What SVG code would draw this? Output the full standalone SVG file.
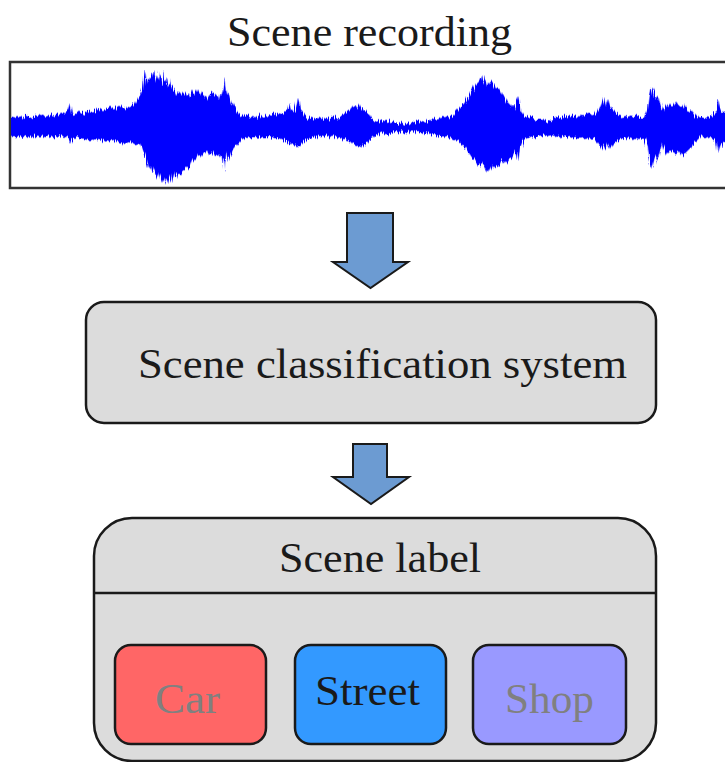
<svg xmlns="http://www.w3.org/2000/svg" width="725" height="762" viewBox="0 0 725 762">
<style>
  .txt { font-size: 42px; fill: #1a1a1a; }
  .gray { fill: #808080; }
  .box { fill: #dcdcdc; stroke: #1a1a1a; stroke-width: 2.5; }
  .arrow { fill: #6c9bd2; stroke: #1a1a1a; stroke-width: 2; stroke-linejoin: miter; }
  .wave { fill: #0000ff; stroke: #0000ff; stroke-width: 1.5; stroke-opacity: 0.4; stroke-linejoin: round; }
  .cls { stroke: #1a1a1a; stroke-width: 2.5; }
</style>
<defs>
  <clipPath id="waveclip"><rect x="11" y="63" width="714" height="125"/></clipPath>
  <filter id="rough" x="-2%" y="-20%" width="104%" height="140%">
    <feTurbulence type="fractalNoise" baseFrequency="0.9 0.02" numOctaves="2" seed="3" result="n"/>
    <feDisplacementMap in="SourceGraphic" in2="n" scale="9" xChannelSelector="R" yChannelSelector="G"/>
  </filter>
</defs>
<rect width="725" height="762" fill="#ffffff"/>

<g font-family="'Liberation Serif', 'DejaVu Serif', 'Noto Serif', 'Times New Roman', Times, serif">
<g id="recording">
  <text class="txt" x="227" y="46" textLength="285" lengthAdjust="spacingAndGlyphs">Scene recording</text>
  <rect x="10" y="62" width="725" height="126" fill="#ffffff" stroke="#333333" stroke-width="2.5"/>
  <g clip-path="url(#waveclip)">
    <g filter="url(#rough)">
    <polygon class="wave" points="11,118 15,117 20,119 25,116 30,118 35,117 40,115 45,117 50,116 55,114 60,116 65,113 68,110 70,104 72,113 75,115 80,112 85,114 90,111 95,112 100,109 105,111 110,107 115,110 120,106 125,109 130,107 135,104 140,96 143,88 145,72 147,85 149,78 151,80 153,73 155,82 157,76 159,80 161,70 163,84 165,83 167,79 169,88 171,86 173,91 175,90 177,95 180,92 183,96 186,93 189,98 192,91 195,95 198,90 201,96 204,94 207,99 210,95 213,93 216,96 219,100 222,90 224,78 226,94 228,92 230,99 232,104 235,110 238,114 241,115 245,117 250,116 255,118 260,115 265,117 270,116 275,114 280,115 285,112 288,110 290,104 292,111 295,109 298,99 300,110 303,113 306,117 310,119 315,120 320,118 325,121 330,119 335,117 340,118 345,114 350,110 353,106 356,108 359,104 362,109 365,112 368,114 372,120 377,121 382,122 387,121 392,123 397,124 402,123 407,124 412,123 417,122 422,121 427,122 432,119 437,120 442,117 447,118 452,116 456,112 460,108 464,104 467,100 470,95 473,90 476,85 479,82 482,76 484,84 486,80 488,86 490,82 493,85 496,90 499,89 502,94 505,98 508,103 511,106 513,110 516,104 518,97 520,112 523,116 527,117 532,118 537,119 542,119 547,121 552,120 556,117 560,118 565,117 570,116 575,117 580,115 585,116 590,114 595,115 598,111 601,106 604,98 606,107 608,100 610,106 613,110 616,113 620,116 625,117 630,118 635,116 640,117 645,117 648,110 650,96 652,88 654,92 656,100 658,97 660,104 662,110 664,111 667,108 670,104 673,106 676,102 679,106 682,108 685,104 688,112 691,110 694,114 697,117 700,118 704,117 708,118 712,116 716,112 718,100 720,108 722,112 730,114 730,140 722,142 720,146 718,152 716,141 712,138 708,136 704,137 700,136 697,139 694,142 691,147 688,150 685,153 682,155 679,151 676,154 673,152 670,150 667,153 664,147 662,143 660,150 658,158 656,155 654,160 652,167 650,162 648,146 645,139 640,138 635,140 630,138 625,137 620,139 616,142 613,144 610,148 608,143 606,147 604,150 601,146 598,142 595,139 590,138 585,139 580,137 575,138 570,137 565,136 560,137 556,136 552,135 547,134 542,135 537,136 532,137 527,138 523,140 520,147 518,160 516,150 513,155 511,158 508,160 505,163 502,159 499,165 496,167 493,164 490,170 488,166 486,171 484,167 482,163 479,164 476,160 473,158 470,154 467,150 464,146 460,143 456,140 452,139 447,137 442,136 437,135 432,134 427,133 422,132 417,132 412,131 407,132 402,131 397,132 392,133 387,134 382,133 377,134 372,137 368,141 365,144 362,147 359,146 356,145 353,144 350,141 345,139 340,137 335,136 330,137 325,136 320,137 315,136 310,138 306,140 303,142 300,145 298,147 295,144 292,143 290,145 288,142 285,140 280,138 275,138 270,137 265,137 260,136 255,137 250,137 245,138 241,140 238,143 235,146 232,150 230,155 228,160 226,152 224,172 222,158 219,154 216,156 213,152 210,155 207,150 204,153 201,157 198,155 195,161 192,158 189,165 186,168 183,170 180,174 177,172 175,178 173,171 171,180 169,176 167,183 165,178 163,181 161,176 159,172 157,178 155,174 153,170 151,164 149,168 147,160 145,155 143,150 140,143 135,144 130,141 125,143 120,142 115,140 110,142 105,141 100,140 95,139 90,140 85,139 80,138 75,137 72,138 70,143 68,138 65,137 60,136 55,137 50,136 45,137 40,136 35,137 30,136 25,137 20,136 15,137 4,136 4,118"/>
    </g>
  </g>
</g>

<g id="connectors">
  <polygon class="arrow" points="347,213 393,213 393,262 408,262 370.5,288 333,262 347,262"/>
  <polygon class="arrow" points="353,444 387,444 387,477 409,477 371,504 333,477 353,477"/>
</g>

<g id="classifier">
  <rect class="box" x="86" y="302" width="570" height="121" rx="18" ry="18"/>
  <text class="txt" x="138" y="378" textLength="489" lengthAdjust="spacingAndGlyphs">Scene classification system</text>
</g>

<g id="scene-label">
  <rect class="box" x="94" y="518" width="562" height="243" rx="38" ry="38"/>
  <line class="cls" x1="94" y1="593" x2="656" y2="593"/>
  <text class="txt" x="279" y="572" textLength="202" lengthAdjust="spacingAndGlyphs">Scene label</text>
</g>

<g id="car">
  <rect x="115" y="645" width="151" height="99" rx="16" ry="16" fill="#ff6666" stroke="#1a1a1a" stroke-width="2.5"/>
  <text class="txt gray" x="155" y="713" textLength="65" lengthAdjust="spacingAndGlyphs">Car</text>
</g>

<g id="street">
  <rect x="295" y="645" width="151" height="99" rx="16" ry="16" fill="#3399ff" stroke="#1a1a1a" stroke-width="2.5"/>
  <text class="txt" x="315" y="705" textLength="105" lengthAdjust="spacingAndGlyphs">Street</text>
</g>

<g id="shop">
  <rect x="473" y="645" width="153" height="99" rx="16" ry="16" fill="#9999ff" stroke="#1a1a1a" stroke-width="2.5"/>
  <text class="txt gray" x="505" y="713" textLength="89" lengthAdjust="spacingAndGlyphs">Shop</text>
</g>
</g>
</svg>
